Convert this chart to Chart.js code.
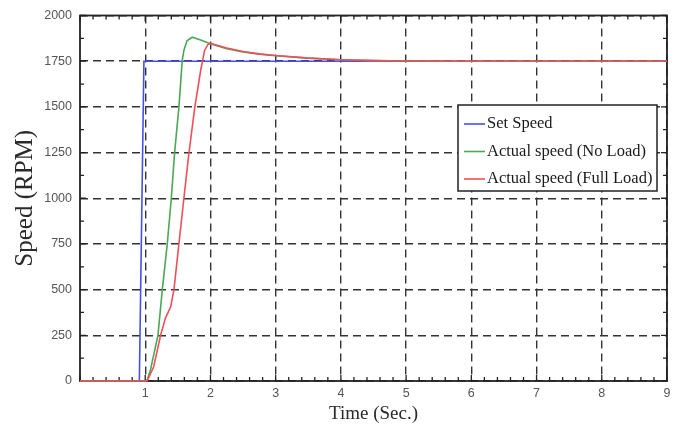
<!DOCTYPE html>
<html><head><meta charset="utf-8">
<style>html,body{margin:0;padding:0;background:#fff;}#wrap{position:relative;width:678px;height:428px;}</style>
<script src="https://cdn.jsdelivr.net/npm/chart.js@4.4.1/dist/chart.umd.min.js"></script>
</head><body><div id="wrap"><canvas id="c" width="678" height="428"></canvas></div>
<script>
const seriesLabels = ['Set Speed', 'Actual speed (No Load)', 'Actual speed (Full Load)'];
const seriesColors = ['#4650e8', '#4aa857', '#ef4f5a'];

const setTime  = [0, 0.91, 0.98, 9];
const setSpeed = [0, 0, 1750, 1750];

const noLoadTime  = [0, 1.0, 1.03, 1.08, 1.195, 1.262, 1.338, 1.40, 1.45, 1.516, 1.568, 1.593, 1.64, 1.72, 1.85, 2.0, 2.25, 2.5, 2.75, 3.0, 3.5, 4.0, 4.5, 5.0, 6.0, 9.0];
const noLoadSpeed = [0, 0, 5, 60, 250, 500, 750, 1000, 1247, 1497, 1754, 1809, 1862, 1881, 1866, 1845, 1818, 1800, 1788, 1780, 1767, 1758, 1753, 1751, 1750, 1750];

const fullLoadTime  = [0, 1.0, 1.03, 1.13, 1.236, 1.31, 1.39, 1.44, 1.516, 1.593, 1.67, 1.76, 1.85, 1.91, 1.96, 2.0, 2.25, 2.5, 2.75, 3.0, 3.5, 4.0, 4.5, 5.0, 6.0, 9.0];
const fullLoadSpeed = [0, 0, 0, 78, 251, 344, 406, 499, 749, 1000, 1247, 1497, 1699, 1809, 1841, 1847, 1822, 1803, 1790, 1781, 1767, 1758, 1753, 1751, 1750, 1750];

const xTickValues = [1, 2, 3, 4, 5, 6, 7, 8, 9];
const yTickValues = [0, 250, 500, 750, 1000, 1250, 1500, 1750, 2000];

function pts(t, v) { return t.map((x, i) => ({x: x, y: v[i]})); }

const tickFont = {family: "'Liberation Sans Narrow','Liberation Sans',sans-serif", size: 12.5};

const framePlugin = {
  id: 'frame',
  beforeDatasetsDraw(chart) {
    const {ctx, chartArea: a, scales: {x, y}} = chart;
    ctx.save();
    ctx.strokeStyle = '#222';
    ctx.lineWidth = 1.3;
    for (let k = 0; k <= 45; k++) {
      const v = k * 0.2;
      const px = x.getPixelForValue(v);
      const len = (k % 5 === 0) ? 6 : 4;
      ctx.beginPath();
      ctx.moveTo(px, a.bottom); ctx.lineTo(px, a.bottom - len);
      ctx.moveTo(px, a.top); ctx.lineTo(px, a.top + len);
      ctx.stroke();
    }
    for (let k = 0; k <= 16; k++) {
      const v = k * 125;
      const py = y.getPixelForValue(v);
      const len = (k % 2 === 0) ? 6 : 4;
      ctx.beginPath();
      ctx.moveTo(a.left, py); ctx.lineTo(a.left + len, py);
      ctx.moveTo(a.right, py); ctx.lineTo(a.right - len, py);
      ctx.stroke();
    }
    ctx.lineWidth = 1.8;
    ctx.strokeRect(a.left, a.top, a.right - a.left, a.bottom - a.top);
    ctx.restore();
  },
  afterDraw(chart) {
    const ctx = chart.ctx;
    const bx = 458, by = 105, bw = 199, bh = 86;
    ctx.save();
    ctx.fillStyle = '#fff';
    ctx.fillRect(bx, by, bw, bh);
    ctx.strokeStyle = '#222';
    ctx.lineWidth = 1.5;
    ctx.strokeRect(bx, by, bw, bh);
    ctx.font = "16.5px 'Liberation Serif','Times New Roman',serif";
    ctx.textBaseline = 'middle';
    ctx.textAlign = 'left';
    chart.data.datasets.forEach((ds, i) => {
      const ry = by + 19 + i * 27.5;
      ctx.strokeStyle = ds.borderColor;
      ctx.lineWidth = 1.6;
      ctx.beginPath(); ctx.moveTo(bx + 6, ry); ctx.lineTo(bx + 27, ry); ctx.stroke();
      ctx.fillStyle = '#1a1a1a';
      ctx.fillText(ds.label, bx + 29, ry);
    });
    ctx.restore();
  }
};

new Chart(document.getElementById('c'), {
  type: 'line',
  data: {
    datasets: [
      {label: seriesLabels[0], data: pts(setTime, setSpeed), borderColor: seriesColors[0], order: 2},
      {label: seriesLabels[1], data: pts(noLoadTime, noLoadSpeed), borderColor: seriesColors[1], order: 1},
      {label: seriesLabels[2], data: pts(fullLoadTime, fullLoadSpeed), borderColor: seriesColors[2], order: 0}
    ]
  },
  options: {
    responsive: false,
    devicePixelRatio: 1,
    animation: false,
    layout: {padding: {top: 15, right: 11, left: 0, bottom: 0}},
    elements: {
      line: {borderWidth: 1.6, tension: 0, fill: false},
      point: {radius: 0, hoverRadius: 0}
    },
    datasets: {line: {clip: false}},
    plugins: {legend: {display: false}, tooltip: {enabled: false}},
    scales: {
      x: {
        type: 'linear', min: 0, max: 9,
        afterBuildTicks(s) { s.ticks = xTickValues.map(v => ({value: v})); },
        afterFit(s) { s.height = 47; },
        ticks: {font: tickFont, color: '#555', padding: 5, maxRotation: 0, autoSkip: false,
          callback: v => String(v)},
        grid: {color: '#333', lineWidth: 1.4, drawTicks: false},
        border: {display: false, dash: [8, 5]},
        title: {display: true, text: 'Time (Sec.)', color: '#2a2a2a',
          font: {family: "'Liberation Serif','Times New Roman',serif", size: 19},
          padding: {top: 0, bottom: 3}}
      },
      y: {
        type: 'linear', min: 0, max: 2000,
        afterBuildTicks(s) { s.ticks = yTickValues.map(v => ({value: v})); },
        afterFit(s) { s.width = 80; },
        ticks: {font: tickFont, color: '#555', padding: 8, autoSkip: false,
          callback: v => String(v)},
        grid: {color: '#333', lineWidth: 1.4, drawTicks: false},
        border: {display: false, dash: [8, 5]},
        title: {display: true, text: 'Speed (RPM)', color: '#2a2a2a',
          font: {family: "'Liberation Serif','Times New Roman',serif", size: 25},
          padding: {top: 10, bottom: 0}}
      }
    }
  },
  plugins: [framePlugin]
});
</script></body></html>
